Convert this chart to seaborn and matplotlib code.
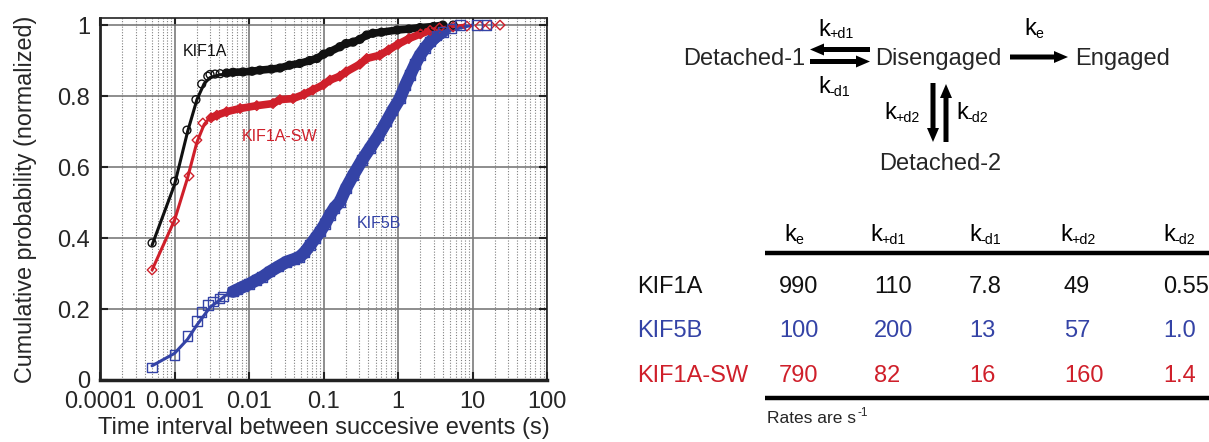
import numpy as np
import pandas as pd
import matplotlib
matplotlib.use('Agg')
import matplotlib.pyplot as plt
import matplotlib.ticker as mticker
from matplotlib.patches import FancyArrow
import seaborn as sns

# cumulative distributions (time in s, normalized probability)
kif1a_t = [0.0005, 0.001, 0.00147, 0.00194, 0.00232, 0.0028, 0.003, 0.0035, 0.0041, 0.005,
           0.0061, 0.0083, 0.011, 0.014, 0.02, 0.026, 0.035, 0.048, 0.065, 0.082, 0.1, 0.122,
           0.166, 0.2, 0.25, 0.309, 0.38, 0.46, 0.6, 0.97, 1.4, 1.97, 3.0, 4.0, 5.5]
kif1a_p = [0.386, 0.56, 0.704, 0.79, 0.834, 0.856, 0.861, 0.862, 0.863, 0.865,
           0.867, 0.868, 0.870, 0.873, 0.876, 0.879, 0.887, 0.892, 0.900, 0.906, 0.918, 0.925,
           0.939, 0.948, 0.952, 0.960, 0.972, 0.977, 0.980, 0.986, 0.989, 0.993, 0.996, 1.0, 1.0]

kif1a_sw_t = [0.0005, 0.001, 0.00157, 0.002, 0.0024, 0.0031, 0.0037, 0.005, 0.0076, 0.0127,
              0.021, 0.026, 0.039, 0.055, 0.072, 0.1, 0.122, 0.166, 0.2, 0.309, 0.38, 0.57,
              0.75, 1.0, 1.4, 2.0, 2.7, 3.6, 5.5, 8.4, 12.6, 17.2, 23.4]
kif1a_sw_p = [0.31, 0.448, 0.575, 0.676, 0.724, 0.739, 0.746, 0.756, 0.765, 0.773,
              0.779, 0.790, 0.793, 0.805, 0.817, 0.832, 0.845, 0.856, 0.868, 0.890, 0.906, 0.915,
              0.930, 0.946, 0.962, 0.975, 0.985, 0.992, 0.995, 0.997, 0.998, 1.0, 1.0]

kif5b_t = [0.0005, 0.001, 0.00149, 0.002, 0.00232, 0.0028, 0.0033, 0.004, 0.0045, 0.0061,
           0.007, 0.0084, 0.01, 0.0127, 0.015, 0.019, 0.025, 0.032, 0.04, 0.048, 0.056,
           0.066, 0.078, 0.09, 0.105, 0.122, 0.14, 0.166, 0.2, 0.25, 0.33, 0.42, 0.55, 0.7,
           0.85, 1.06, 1.25, 1.45, 1.7, 1.97, 2.3, 2.7, 3.3, 4.0, 5.2, 6.8, 11.5, 15.5]
kif5b_p = [0.036, 0.07, 0.124, 0.166, 0.192, 0.211, 0.221, 0.23, 0.235, 0.249,
           0.255, 0.263, 0.27, 0.282, 0.29, 0.305, 0.32, 0.333, 0.34, 0.347, 0.36,
           0.38, 0.40, 0.418, 0.44, 0.465, 0.485, 0.502, 0.54, 0.577, 0.62, 0.653, 0.69, 0.728,
           0.76, 0.793, 0.83, 0.859, 0.89, 0.915, 0.935, 0.953, 0.97, 0.981, 0.99, 1.0, 1.0, 1.0]

# fitted model curves
kif1a_fit_t = [0.0005, 0.001, 0.0015, 0.002, 0.0025, 0.003, 0.004, 0.006, 0.01, 0.02, 0.05,
               0.1, 0.2, 0.5, 1, 3, 6]
kif1a_fit_p = [0.38, 0.55, 0.70, 0.79, 0.835, 0.852, 0.86, 0.863, 0.866, 0.875, 0.89,
               0.915, 0.945, 0.976, 0.988, 0.998, 1.0]
kif1a_sw_fit_t = [0.0005, 0.001, 0.0015, 0.002, 0.0025, 0.003, 0.004, 0.006, 0.01, 0.02, 0.05,
                  0.1, 0.2, 0.5, 1, 2, 4, 8]
kif1a_sw_fit_p = [0.31, 0.45, 0.57, 0.67, 0.72, 0.74, 0.75, 0.76, 0.77, 0.78, 0.80,
                  0.83, 0.866, 0.915, 0.946, 0.975, 0.993, 1.0]
kif5b_fit_t = [0.0005, 0.001, 0.0015, 0.002, 0.003, 0.005, 0.01, 0.02, 0.05, 0.1, 0.2, 0.5,
               1, 2, 5, 10]
kif5b_fit_p = [0.04, 0.075, 0.115, 0.155, 0.205, 0.24, 0.27, 0.305, 0.35, 0.43, 0.54, 0.69,
               0.79, 0.91, 0.985, 1.0]

# rate table
motors = ['KIF1A', 'KIF5B', 'KIF1A-SW']
rate_subs = ['e', '+d1', '-d1', '+d2', '-d2']
rates_kif1a = ['990', '110', '7.8', '49', '0.55']
rates_kif5b = ['100', '200', '13', '57', '1.0']
rates_kif1a_sw = ['790', '82', '16', '160', '1.4']

BLACK, BLUE, RED = '#111111', '#3443a6', '#cf1f2a'

sns.set_theme(style='white')
plt.rcParams['font.family'] = ['Liberation Sans', 'DejaVu Sans']

fig = plt.figure(figsize=(12.09, 4.42), dpi=100)
ax = fig.add_axes([100 / 1209, 62 / 442, 447 / 1209, 362 / 442])

series = [
    (kif1a_t, kif1a_p, kif1a_fit_t, kif1a_fit_p, BLACK, 'o', 32, 5.5, (0.005, 5)),
    (kif1a_sw_t, kif1a_sw_p, kif1a_sw_fit_t, kif1a_sw_fit_p, RED, 'D', 24, 5.5, (0.003, 4)),
    (kif5b_t, kif5b_p, kif5b_fit_t, kif5b_fit_p, BLUE, 's', 46, 9.0, (0.005, 5)),
]
for t, p, ft, fp, c, m, s, bw, (lo, hi) in series:
    df = pd.DataFrame({'t': t, 'p': p})
    band = df[(df.t >= lo) & (df.t <= hi)]
    sns.lineplot(data=band, x='t', y='p', ax=ax, color=c, lw=bw, sort=False,
                 estimator=None, zorder=3, solid_capstyle='round')
    sns.lineplot(x=ft, y=fp, ax=ax, color=c, lw=2.2, sort=False, estimator=None, zorder=4)
    sns.scatterplot(data=df, x='t', y='p', ax=ax, marker=m, s=s, facecolor='none',
                    edgecolor=c, linewidth=1.0, zorder=5)

ax.set_xscale('log')
ax.set_xlim(1e-4, 100)
ax.set_ylim(0, 1.02)
ax.set_yticks([0, 0.2, 0.4, 0.6, 0.8, 1.0])
ax.yaxis.set_major_formatter(mticker.FuncFormatter(lambda v, _: f'{v:g}'))
ax.xaxis.set_major_locator(mticker.LogLocator(base=10, numticks=10))
ax.xaxis.set_minor_locator(mticker.LogLocator(base=10, subs=np.arange(2, 10), numticks=20))
ax.xaxis.set_major_formatter(mticker.FuncFormatter(lambda v, _: f'{v:g}'))
ax.xaxis.set_minor_formatter(mticker.NullFormatter())

ax.grid(True, which='major', color='#7a7a7a', lw=1.2, zorder=1)
ax.grid(True, which='minor', axis='x', color='#808080', lw=0.8, ls=(0, (1, 1.5)), zorder=1)
ax.set_axisbelow(True)
ax.tick_params(which='major', direction='in', length=6, width=1.5, labelsize=17,
               top=True, right=True, bottom=True, left=True, color='#222222')
ax.tick_params(axis='x', which='major', pad=8)
ax.tick_params(axis='y', which='major', pad=7)
ax.tick_params(which='minor', length=0)
for side, w in [('left', 2.0), ('bottom', 2.5), ('top', 1.2), ('right', 1.2)]:
    ax.spines[side].set_visible(True)
    ax.spines[side].set_color('#222222')
    ax.spines[side].set_linewidth(w)

ax.set_xlabel('Time interval between succesive events (s)', fontsize=17)
ax.set_ylabel('Cumulative probability (normalized)', fontsize=16.8)
ax.yaxis.set_label_coords(-0.142, 0.5)
ax.xaxis.set_label_coords(0.5, -0.103)

ax.text(0.00129, 0.913, 'KIF1A', color=BLACK, fontsize=11.5, va='baseline')
ax.text(0.00798, 0.673, 'KIF1A-SW', color=RED, fontsize=11.5, va='baseline')
ax.text(0.279, 0.427, 'KIF5B', color=BLUE, fontsize=11.5, va='baseline')

# right half: kinetic scheme and rate table, drawn in pixel coordinates
ov = fig.add_axes([0, 0, 1, 1])
ov.set_xlim(0, 1209)
ov.set_ylim(442, 0)
ov.axis('off')


def k_label(x, y, sub, size=17, color='black'):
    ov.text(x, y, 'k', fontsize=size, color=color, va='baseline')
    ov.text(x + size * 0.68, y + 2.5, sub, fontsize=size * 0.6, color=color, va='baseline')


for label, x, y in [('Detached-1', 683, 65), ('Disengaged', 875, 65),
                    ('Engaged', 1075, 65), ('Detached-2', 879, 170.5)]:
    ov.text(x, y, label, fontsize=17, va='baseline')

arrow_kw = dict(width=5, head_width=12, head_length=14, length_includes_head=True,
                color='black', lw=0)
for x, y, dx, dy in [(870, 49.5, -60, 0), (810, 61.5, 60, 0), (1010, 57, 58, 0),
                     (933, 83, 0, 59), (946, 142, 0, -58)]:
    ov.add_patch(FancyArrow(x, y, dx, dy, **arrow_kw))

k_label(818, 36, '+d1')
k_label(818, 93, '-d1')
k_label(1024, 35, 'e')
k_label(884, 119, '+d2')
k_label(956, 119, '-d2')

header_x = [784, 870, 969, 1060, 1163]
value_x = [779, 874, 969, 1064, 1163]
for x, sub in zip(header_x, rate_subs):
    k_label(x, 241, sub)

ov.plot([765, 1209], [252.5, 252.5], color='black', lw=3.2, solid_capstyle='butt')
ov.plot([765, 1209], [398, 398], color='black', lw=3.2, solid_capstyle='butt')

for name, vals, c, y in zip(motors, [rates_kif1a, rates_kif5b, rates_kif1a_sw],
                            [BLACK, BLUE, RED], [293, 337, 382]):
    ov.text(637, y, name, fontsize=17, color=c, va='baseline')
    for x, v in zip(value_x, vals):
        ov.text(x, y, v, fontsize=17, color=c, va='baseline')

ov.text(767, 423, 'Rates are s', fontsize=12.5, va='baseline')
ov.text(857, 415.5, '-1', fontsize=8.5, va='baseline')

fig.savefig('out.png', dpi=100)
